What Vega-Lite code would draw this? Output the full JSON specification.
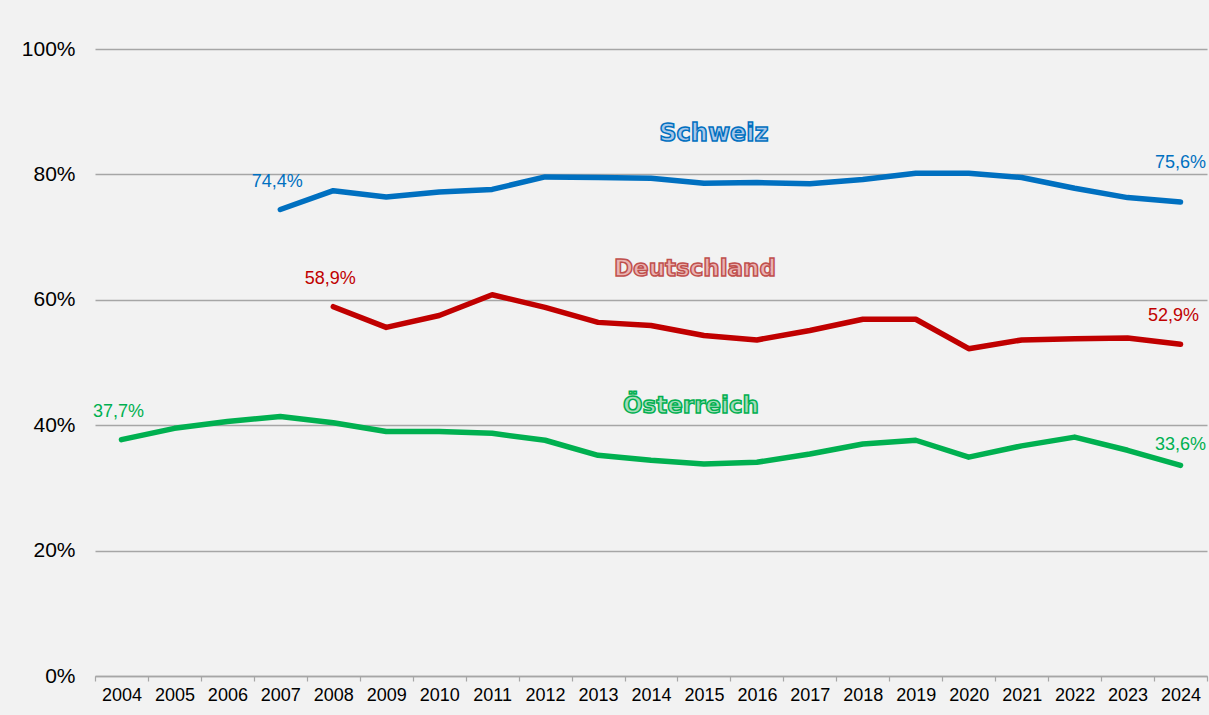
{
  "$schema": "https://vega.github.io/schema/vega-lite/v6.json",
  "width": 1112,
  "height": 627,
  "autosize": {"type": "none"},
  "padding": {"left": 95, "top": 49, "right": 2, "bottom": 39},
  "background": "#f2f2f2",
  "config": {
    "view": {"stroke": null},
    "font": "Liberation Sans",
    "text": {"font": "Liberation Sans"},
    "axis": {"labelFont": "Liberation Sans", "labelColor": "#000000"},
    "axisX": {"labelFontSize": 18, "labelPadding": 5},
    "axisY": {"labelFontSize": 21, "labelPadding": 20}
  },
  "datasets": {
    "series": [
      {"land": "Schweiz", "year": "2007", "value": 74.4},
      {"land": "Schweiz", "year": "2008", "value": 77.4},
      {"land": "Schweiz", "year": "2009", "value": 76.4},
      {"land": "Schweiz", "year": "2010", "value": 77.2},
      {"land": "Schweiz", "year": "2011", "value": 77.6},
      {"land": "Schweiz", "year": "2012", "value": 79.6},
      {"land": "Schweiz", "year": "2013", "value": 79.5},
      {"land": "Schweiz", "year": "2014", "value": 79.4},
      {"land": "Schweiz", "year": "2015", "value": 78.6},
      {"land": "Schweiz", "year": "2016", "value": 78.7},
      {"land": "Schweiz", "year": "2017", "value": 78.5},
      {"land": "Schweiz", "year": "2018", "value": 79.2},
      {"land": "Schweiz", "year": "2019", "value": 80.2},
      {"land": "Schweiz", "year": "2020", "value": 80.2},
      {"land": "Schweiz", "year": "2021", "value": 79.5},
      {"land": "Schweiz", "year": "2022", "value": 77.8},
      {"land": "Schweiz", "year": "2023", "value": 76.3},
      {"land": "Schweiz", "year": "2024", "value": 75.6},
      {"land": "Deutschland", "year": "2008", "value": 58.9},
      {"land": "Deutschland", "year": "2009", "value": 55.6},
      {"land": "Deutschland", "year": "2010", "value": 57.5},
      {"land": "Deutschland", "year": "2011", "value": 60.8},
      {"land": "Deutschland", "year": "2012", "value": 58.8},
      {"land": "Deutschland", "year": "2013", "value": 56.4},
      {"land": "Deutschland", "year": "2014", "value": 55.9},
      {"land": "Deutschland", "year": "2015", "value": 54.3},
      {"land": "Deutschland", "year": "2016", "value": 53.6},
      {"land": "Deutschland", "year": "2017", "value": 55.1},
      {"land": "Deutschland", "year": "2018", "value": 56.9},
      {"land": "Deutschland", "year": "2019", "value": 56.9},
      {"land": "Deutschland", "year": "2020", "value": 52.2},
      {"land": "Deutschland", "year": "2021", "value": 53.6},
      {"land": "Deutschland", "year": "2022", "value": 53.8},
      {"land": "Deutschland", "year": "2023", "value": 53.9},
      {"land": "Deutschland", "year": "2024", "value": 52.9},
      {"land": "Österreich", "year": "2004", "value": 37.7},
      {"land": "Österreich", "year": "2005", "value": 39.5},
      {"land": "Österreich", "year": "2006", "value": 40.6},
      {"land": "Österreich", "year": "2007", "value": 41.4},
      {"land": "Österreich", "year": "2008", "value": 40.4},
      {"land": "Österreich", "year": "2009", "value": 39.0},
      {"land": "Österreich", "year": "2010", "value": 39.0},
      {"land": "Österreich", "year": "2011", "value": 38.7},
      {"land": "Österreich", "year": "2012", "value": 37.6},
      {"land": "Österreich", "year": "2013", "value": 35.2},
      {"land": "Österreich", "year": "2014", "value": 34.4},
      {"land": "Österreich", "year": "2015", "value": 33.8},
      {"land": "Österreich", "year": "2016", "value": 34.1},
      {"land": "Österreich", "year": "2017", "value": 35.4},
      {"land": "Österreich", "year": "2018", "value": 37.0},
      {"land": "Österreich", "year": "2019", "value": 37.6},
      {"land": "Österreich", "year": "2020", "value": 34.9},
      {"land": "Österreich", "year": "2021", "value": 36.7},
      {"land": "Österreich", "year": "2022", "value": 38.1},
      {"land": "Österreich", "year": "2023", "value": 36.0},
      {"land": "Österreich", "year": "2024", "value": 33.6}
    ],
    "titles": [
      {"land": "Schweiz", "year": "2015", "value": 86.5},
      {"land": "Deutschland", "year": "2015", "value": 64.9},
      {"land": "Österreich", "year": "2015", "value": 43.1}
    ]
  },
  "layer": [
    {
      "data": {"name": "series"},
      "mark": {"type": "line", "strokeWidth": 5.5, "strokeCap": "round", "strokeJoin": "round"},
      "encoding": {
        "x": {
          "field": "year", "type": "ordinal", "bandPosition": 0.5,
          "scale": {"type": "band", "paddingInner": 0, "paddingOuter": 0,
            "domain": ["2004","2005","2006","2007","2008","2009","2010","2011","2012","2013","2014","2015","2016","2017","2018","2019","2020","2021","2022","2023","2024"]},
          "axis": {
            "title": null, "labelAngle": 0, "labelFontSize": 18,
            "domainColor": "#a6a6a6", "domainWidth": 1.5,
            "tickColor": "#a6a6a6", "tickSize": 5, "tickBand": "extent", "tickWidth": 1.2,
            "grid": false
          }
        },
        "y": {
          "field": "value", "type": "quantitative",
          "scale": {"domain": [0, 100]},
          "axis": {
            "title": null, "values": [0, 20, 40, 60, 80, 100],
            "format": "d",
            "labelExpr": "datum.label + '%'", "labelFontSize": 21,
            "domain": false, "ticks": false,
            "gridColor": "#a6a6a6", "gridWidth": 1.3,
            "encode": {"labels": {"update": {"fontSize": {"value": 21}, "font": {"value": "Liberation Sans"}}}}
          }
        },
        "color": {
          "field": "land", "type": "nominal",
          "scale": {"domain": ["Schweiz", "Deutschland", "Österreich"], "range": ["#0070c0", "#c00000", "#00b050"]},
          "legend": null
        }
      }
    },
    {
      "data": {"name": "series"},
      "transform": [
        {"filter": "(datum.land == 'Schweiz' && datum.year == '2007') || (datum.land == 'Deutschland' && datum.year == '2008') || (datum.land == 'Österreich' && datum.year == '2004')"},
        {"calculate": "replace(format(datum.value, '.1f'), '.', ',') + '%'", "as": "lbl"}
      ],
      "mark": {"type": "text", "fontSize": 18, "dy": -28, "dx": -3},
      "encoding": {
        "x": {"field": "year", "type": "ordinal", "bandPosition": 0.5},
        "y": {"field": "value", "type": "quantitative"},
        "text": {"field": "lbl"},
        "color": {"field": "land", "type": "nominal", "legend": null}
      }
    },
    {
      "data": {"name": "series"},
      "transform": [
        {"filter": "datum.land == 'Schweiz' && datum.year == '2024'"},
        {"calculate": "replace(format(datum.value, '.1f'), '.', ',') + '%'", "as": "lbl"}
      ],
      "mark": {"type": "text", "fontSize": 18, "dy": -39, "dx": 0},
      "encoding": {
        "x": {"field": "year", "type": "ordinal", "bandPosition": 0.5},
        "y": {"field": "value", "type": "quantitative"},
        "text": {"field": "lbl"},
        "color": {"field": "land", "type": "nominal", "legend": null}
      }
    },
    {
      "data": {"name": "series"},
      "transform": [
        {"filter": "datum.land == 'Deutschland' && datum.year == '2024'"},
        {"calculate": "replace(format(datum.value, '.1f'), '.', ',') + '%'", "as": "lbl"}
      ],
      "mark": {"type": "text", "fontSize": 18, "dy": -28, "dx": -7},
      "encoding": {
        "x": {"field": "year", "type": "ordinal", "bandPosition": 0.5},
        "y": {"field": "value", "type": "quantitative"},
        "text": {"field": "lbl"},
        "color": {"field": "land", "type": "nominal", "legend": null}
      }
    },
    {
      "data": {"name": "series"},
      "transform": [
        {"filter": "datum.land == 'Österreich' && datum.year == '2024'"},
        {"calculate": "replace(format(datum.value, '.1f'), '.', ',') + '%'", "as": "lbl"}
      ],
      "mark": {"type": "text", "fontSize": 18, "dy": -20, "dx": 0},
      "encoding": {
        "x": {"field": "year", "type": "ordinal", "bandPosition": 0.5},
        "y": {"field": "value", "type": "quantitative"},
        "text": {"field": "lbl"},
        "color": {"field": "land", "type": "nominal", "legend": null}
      }
    },
    {
      "data": {"name": "titles"},
      "transform": [{"filter": "datum.land == 'Schweiz'"}],
      "mark": {"type": "text", "font": "DejaVu Sans", "fontWeight": "bold", "fontSize": 24, "strokeWidth": 1.5, "baseline": "middle", "dx": 10, "stroke": "#0070c0", "fill": "#a9c8ea"},
      "encoding": {
        "x": {"field": "year", "type": "ordinal", "bandPosition": 0.5},
        "y": {"field": "value", "type": "quantitative"},
        "text": {"field": "land"}
      }
    },
    {
      "data": {"name": "titles"},
      "transform": [{"filter": "datum.land == 'Deutschland'"}],
      "mark": {"type": "text", "font": "DejaVu Sans", "fontWeight": "bold", "fontSize": 23, "strokeWidth": 1.5, "baseline": "middle", "dx": -9, "stroke": "#c0504d", "fill": "#eab4b3"},
      "encoding": {
        "x": {"field": "year", "type": "ordinal", "bandPosition": 0.5},
        "y": {"field": "value", "type": "quantitative"},
        "text": {"field": "land"}
      }
    },
    {
      "data": {"name": "titles"},
      "transform": [{"filter": "datum.land == 'Österreich'"}],
      "mark": {"type": "text", "font": "DejaVu Sans", "fontWeight": "bold", "fontSize": 23, "strokeWidth": 1.5, "baseline": "middle", "dx": -13, "stroke": "#00b050", "fill": "#a6dcbc"},
      "encoding": {
        "x": {"field": "year", "type": "ordinal", "bandPosition": 0.5},
        "y": {"field": "value", "type": "quantitative"},
        "text": {"field": "land"}
      }
    }
  ]
}
